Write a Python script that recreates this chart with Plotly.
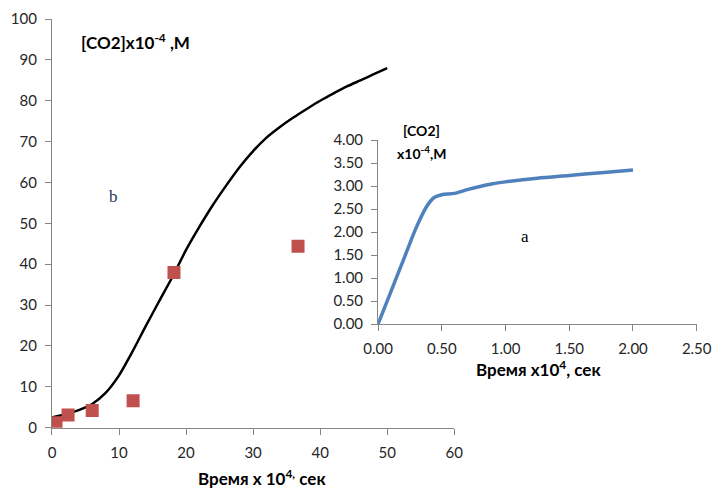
import plotly.graph_objects as go

# Main chart (b): fitted curve and measured points, time in 10^4 s
fit_t = [0, 2, 4, 6, 8, 10, 12, 14, 16, 18, 20, 22, 24, 26, 28, 30,
         32, 34, 36, 38, 40, 42, 44, 46, 48, 50]
fit_co2 = [2.5, 3.3, 4.3, 5.8, 8.5, 12.8, 18.6, 24.9, 31.0, 37.0, 43.5, 49.2, 54.5,
           59.3, 63.8, 67.7, 71.0, 73.6, 75.9, 78.0, 80.0, 81.8, 83.5, 85.0, 86.5, 88.0]

exp_t = [0.6, 2.4, 6.0, 12.1, 18.2, 36.7]
exp_co2 = [1.2, 3.1, 4.2, 6.6, 38.0, 44.4]

# Inset chart (a)
ins_t = [0, 0.1, 0.2, 0.3, 0.38, 0.44, 0.5, 0.6, 0.7, 0.8, 0.9, 1.0, 1.25, 1.5, 1.75, 2.0]
ins_co2 = [0, 0.7, 1.4, 2.1, 2.55, 2.75, 2.81, 2.84, 2.92, 2.99, 3.05, 3.09, 3.17, 3.23, 3.29, 3.35]

main_xticks = [0, 10, 20, 30, 40, 50, 60]
main_yticks = [0, 10, 20, 30, 40, 50, 60, 70, 80, 90, 100]
ins_xticks = [0, 0.5, 1.0, 1.5, 2.0, 2.5]
ins_yticks = [0, 0.5, 1.0, 1.5, 2.0, 2.5, 3.0, 3.5, 4.0]

SANS = "Lato, Open Sans, sans-serif"
SERIF = "Liberation Serif, DejaVu Serif, serif"
AXIS_GREY = "#868686"
TEXT = "#262626"

fig = go.Figure()

fig.add_trace(go.Scatter(
    x=fit_t, y=fit_co2, mode="lines",
    line=dict(color="black", width=2.5, shape="spline", smoothing=0.6),
    xaxis="x", yaxis="y", showlegend=False, hoverinfo="skip",
))
fig.add_trace(go.Scatter(
    x=exp_t, y=exp_co2, mode="markers",
    marker=dict(symbol="square", size=13, color="#C0504D"),
    xaxis="x", yaxis="y", showlegend=False,
))
fig.add_trace(go.Scatter(
    x=ins_t, y=ins_co2, mode="lines",
    line=dict(color="#4F81BD", width=3.5, shape="spline", smoothing=0.8),
    xaxis="x2", yaxis="y2", showlegend=False,
))

axis_common = dict(
    showline=True, linecolor=AXIS_GREY, linewidth=1,
    ticks="outside", ticklen=6, tickcolor=AXIS_GREY, tickwidth=1,
    showgrid=False, zeroline=False, automargin=False,
    tickfont=dict(family=SANS, size=15, color=TEXT),
    ticklabelstandoff=5,
)

fig.update_layout(
    width=712, height=489,
    margin=dict(l=0, r=0, t=0, b=0, autoexpand=False),
    paper_bgcolor="white", plot_bgcolor="rgba(0,0,0,0)",
    xaxis=dict(domain=[0.073, 0.638], range=[0, 60], tickvals=main_xticks,
               anchor="y", **axis_common),
    yaxis=dict(domain=[0.1254, 0.961], range=[0, 100], tickvals=main_yticks,
               anchor="x", **axis_common),
    xaxis2=dict(domain=[0.531, 0.9785], range=[0, 2.5], tickvals=ins_xticks,
                tickformat=".2f", anchor="y2", **axis_common),
    yaxis2=dict(domain=[0.3374, 0.7137], range=[0, 4], tickvals=ins_yticks,
                tickformat=".2f", anchor="x2", **axis_common),
)

annotations = [
    dict(text="<b>[CO2]x10<sup>-4</sup> ,M</b>", x=79, y=42, xanchor="left",
         font=dict(family=SANS, size=17, color="black")),
    dict(text="<b>Время x 10<sup>4,</sup> сек</b>", x=262, y=477,
         font=dict(family=SANS, size=17, color="black")),
    dict(text="<b>Время x10<sup>4</sup>, сек</b>", x=538, y=368,
         font=dict(family=SANS, size=17, color="black")),
    dict(text="<b>[CO2]</b>", x=422, y=131,
         font=dict(family=SANS, size=14, color="black")),
    dict(text="<b>x10<sup>-4</sup>,M</b>", x=422, y=153,
         font=dict(family=SANS, size=14, color="black")),
    dict(text="b", x=113, y=196, font=dict(family=SERIF, size=17, color="#1f3a5a")),
    dict(text="a", x=525, y=236, font=dict(family=SERIF, size=17, color="black")),
]
for a in annotations:
    fig.add_annotation(
        text=a["text"], xref="paper", yref="paper",
        x=a["x"] / 712, y=1 - a["y"] / 489,
        xanchor=a.get("xanchor", "center"), yanchor="middle",
        showarrow=False, font=a["font"],
    )

fig.write_html("out.html")
